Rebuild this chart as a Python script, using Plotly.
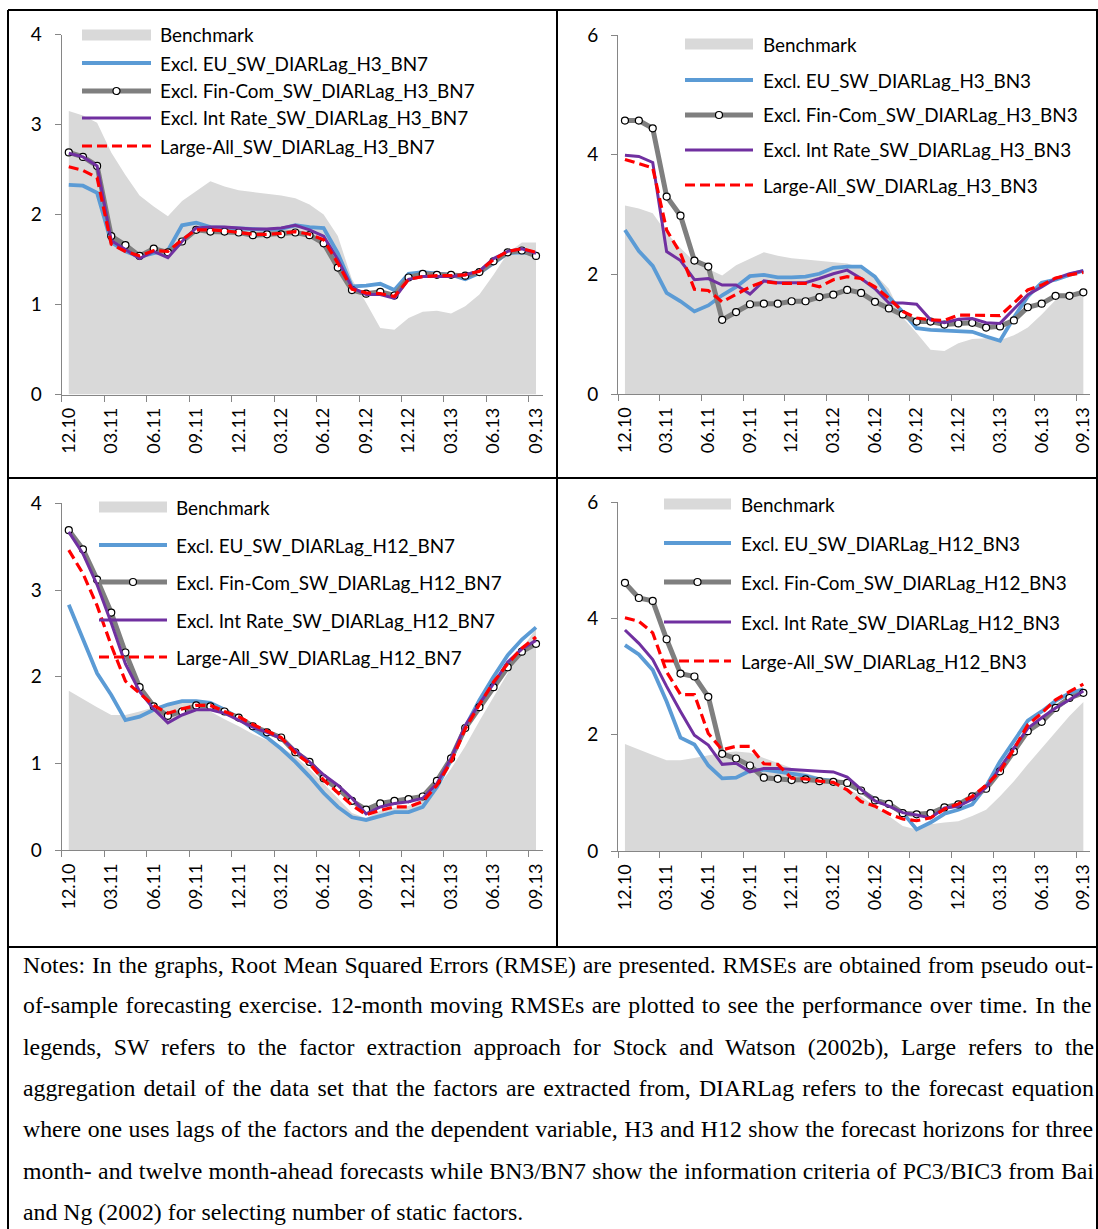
import plotly.graph_objects as go

# ---------------- data ----------------
periods = ["12.10", "01.11", "02.11", "03.11", "04.11", "05.11", "06.11", "07.11", "08.11",
           "09.11", "10.11", "11.11", "12.11", "01.12", "02.12", "03.12", "04.12", "05.12",
           "06.12", "07.12", "08.12", "09.12", "10.12", "11.12", "12.12", "01.13", "02.13",
           "03.13", "04.13", "05.13", "06.13", "07.13", "08.13", "09.13"]
tick_labels = ["12.10", "03.11", "06.11", "09.11", "12.11", "03.12", "06.12", "09.12",
               "12.12", "03.13", "06.13", "09.13"]

bench_h3 = [3.15, 3.10, 3.02, 2.69, 2.44, 2.21, 2.09, 1.98, 2.15, 2.26, 2.37, 2.31, 2.27, 2.25,
            2.23, 2.21, 2.18, 2.11, 2.00, 1.76, 1.28, 1.02, 0.74, 0.72, 0.85, 0.92, 0.93, 0.90,
            0.98, 1.11, 1.33, 1.57, 1.69, 1.69]
bench_h12 = [1.84, 1.74, 1.65, 1.56, 1.56, 1.60, 1.65, 1.69, 1.71, 1.69, 1.60, 1.51, 1.43, 1.34,
             1.27, 1.19, 1.08, 0.94, 0.77, 0.60, 0.43, 0.37, 0.46, 0.49, 0.51, 0.60, 0.71, 0.94,
             1.20, 1.49, 1.77, 2.05, 2.32, 2.56]

eu_h3_bn7 = [2.33, 2.32, 2.24, 1.69, 1.59, 1.53, 1.57, 1.60, 1.88, 1.91, 1.86, 1.85, 1.85, 1.83,
             1.83, 1.84, 1.88, 1.86, 1.85, 1.57, 1.20, 1.21, 1.23, 1.16, 1.34, 1.36, 1.35, 1.33,
             1.28, 1.35, 1.46, 1.57, 1.58, 1.56]
fincom_h3_bn7 = [2.69, 2.64, 2.54, 1.76, 1.66, 1.54, 1.62, 1.58, 1.70, 1.83, 1.81, 1.81, 1.80, 1.77,
                 1.78, 1.78, 1.80, 1.77, 1.68, 1.41, 1.16, 1.12, 1.14, 1.10, 1.30, 1.34, 1.33, 1.33,
                 1.32, 1.36, 1.48, 1.58, 1.60, 1.54]
intrate_h3_bn7 = [2.68, 2.64, 2.54, 1.71, 1.61, 1.51, 1.59, 1.52, 1.70, 1.85, 1.86, 1.86, 1.85, 1.84,
                  1.84, 1.85, 1.88, 1.83, 1.76, 1.50, 1.19, 1.11, 1.11, 1.07, 1.28, 1.31, 1.31, 1.31,
                  1.33, 1.37, 1.51, 1.59, 1.62, 1.57]
large_h3_bn7 = [2.53, 2.49, 2.41, 1.67, 1.59, 1.54, 1.60, 1.59, 1.72, 1.83, 1.83, 1.82, 1.80, 1.78,
                1.78, 1.79, 1.81, 1.78, 1.72, 1.46, 1.17, 1.13, 1.12, 1.09, 1.28, 1.31, 1.32, 1.32,
                1.33, 1.37, 1.50, 1.59, 1.62, 1.58]

eu_h3_bn3 = [2.74, 2.39, 2.14, 1.69, 1.55, 1.38, 1.48, 1.65, 1.79, 1.97, 1.99, 1.95, 1.95, 1.96,
             2.01, 2.11, 2.13, 2.13, 1.96, 1.62, 1.37, 1.10, 1.07, 1.06, 1.05, 1.04, 0.96, 0.89,
             1.28, 1.63, 1.86, 1.91, 1.99, 2.06]
fincom_h3_bn3 = [4.57, 4.57, 4.44, 3.30, 2.98, 2.23, 2.13, 1.24, 1.37, 1.50, 1.51, 1.51, 1.55, 1.55,
                 1.62, 1.66, 1.74, 1.69, 1.54, 1.43, 1.33, 1.21, 1.21, 1.16, 1.18, 1.19, 1.11, 1.13,
                 1.23, 1.45, 1.51, 1.64, 1.64, 1.70]
intrate_h3_bn3 = [3.99, 3.97, 3.87, 2.38, 2.23, 1.91, 1.93, 1.82, 1.82, 1.67, 1.89, 1.86, 1.86, 1.86,
                  1.93, 2.01, 2.07, 1.93, 1.76, 1.52, 1.52, 1.50, 1.24, 1.19, 1.25, 1.26, 1.19, 1.18,
                  1.42, 1.66, 1.79, 1.93, 2.01, 2.06]
large_h3_bn3 = [3.92, 3.85, 3.78, 2.74, 2.35, 1.75, 1.73, 1.54, 1.66, 1.79, 1.88, 1.85, 1.85, 1.85,
                1.79, 1.91, 1.96, 1.93, 1.79, 1.60, 1.38, 1.27, 1.24, 1.23, 1.32, 1.32, 1.32, 1.31,
                1.52, 1.74, 1.82, 1.94, 1.99, 2.03]

eu_h12_bn7 = [2.83, 2.44, 2.04, 1.79, 1.50, 1.54, 1.62, 1.68, 1.72, 1.72, 1.70, 1.62, 1.52, 1.40,
              1.30, 1.17, 1.02, 0.85, 0.66, 0.50, 0.38, 0.35, 0.40, 0.44, 0.44, 0.50, 0.73, 1.04,
              1.42, 1.73, 2.00, 2.25, 2.43, 2.57]
fincom_h12_bn7 = [3.69, 3.47, 3.12, 2.74, 2.28, 1.88, 1.66, 1.55, 1.60, 1.67, 1.66, 1.60, 1.53, 1.43,
                  1.36, 1.30, 1.13, 1.02, 0.83, 0.71, 0.57, 0.47, 0.54, 0.57, 0.59, 0.62, 0.80, 1.06,
                  1.41, 1.65, 1.88, 2.11, 2.29, 2.38]
intrate_h12_bn7 = [3.67, 3.42, 3.06, 2.62, 2.15, 1.83, 1.63, 1.47, 1.56, 1.62, 1.62, 1.58, 1.50, 1.42,
                   1.36, 1.29, 1.15, 1.02, 0.87, 0.75, 0.60, 0.42, 0.50, 0.54, 0.56, 0.60, 0.77, 1.06,
                   1.44, 1.69, 1.92, 2.17, 2.32, 2.42]
large_h12_bn7 = [3.46, 3.19, 2.82, 2.36, 1.95, 1.81, 1.67, 1.58, 1.63, 1.67, 1.67, 1.60, 1.54, 1.45,
                 1.37, 1.30, 1.12, 1.00, 0.81, 0.66, 0.52, 0.41, 0.46, 0.50, 0.50, 0.56, 0.75, 1.02,
                 1.40, 1.68, 1.94, 2.15, 2.33, 2.46]

eu_h12_bn3 = [3.54, 3.38, 3.11, 2.57, 1.95, 1.83, 1.47, 1.25, 1.26, 1.38, 1.40, 1.37, 1.33, 1.29,
              1.23, 1.21, 1.15, 1.03, 0.89, 0.80, 0.66, 0.37, 0.49, 0.64, 0.71, 0.80, 1.11, 1.54,
              1.89, 2.24, 2.40, 2.58, 2.71, 2.78]
fincom_h12_bn3 = [4.61, 4.35, 4.30, 3.64, 3.05, 3.00, 2.65, 1.67, 1.59, 1.47, 1.26, 1.24, 1.22, 1.23,
                  1.20, 1.19, 1.17, 1.04, 0.87, 0.81, 0.65, 0.63, 0.65, 0.75, 0.80, 0.94, 1.07, 1.37,
                  1.71, 2.06, 2.22, 2.46, 2.63, 2.72]
intrate_h12_bn3 = [3.80, 3.57, 3.29, 2.83, 2.40, 1.99, 1.82, 1.49, 1.51, 1.36, 1.42, 1.42, 1.40, 1.38,
                   1.37, 1.36, 1.27, 1.06, 0.86, 0.77, 0.66, 0.62, 0.57, 0.74, 0.77, 0.89, 1.09, 1.43,
                   1.77, 2.11, 2.29, 2.46, 2.60, 2.75]
large_h12_bn3 = [4.01, 3.95, 3.75, 3.08, 2.69, 2.69, 2.02, 1.74, 1.80, 1.80, 1.50, 1.49, 1.25, 1.24,
                 1.20, 1.18, 1.05, 0.85, 0.77, 0.64, 0.55, 0.52, 0.57, 0.72, 0.81, 0.94, 1.13, 1.37,
                 1.75, 2.17, 2.37, 2.60, 2.74, 2.87]

notes_lines = [
    "Notes: In the graphs, Root Mean Squared Errors (RMSE) are presented. RMSEs are obtained from pseudo out-",
    "of-sample forecasting exercise. 12-month moving RMSEs are plotted to see the performance over time. In the",
    "legends, SW refers to the factor extraction approach for Stock and Watson (2002b), Large refers to the",
    "aggregation detail of the data set that the factors are extracted from, DIARLag refers to the forecast equation",
    "where one uses lags of the factors and the dependent variable, H3 and H12 show the forecast horizons for three",
    "month- and twelve month-ahead forecasts while BN3/BN7 show the information criteria of PC3/BIC3 from Bai",
    "and Ng (2002) for selecting number of static factors.",
]
# extra word spacing (px) to justify the paragraph lines as in the original
notes_word_spacing = [0.8, 1.5, 6.1, 2.2, 0.6, 0.4, 0.0]

# ---------------- layout helpers ----------------
W, H = 1098, 1229


def px(x):
    return x / W


def py(y):
    return 1 - y / H


FONT = "Lato"
AX_GRAY = "#868686"
LEG_SIZE = 18.9
series_style = [
    dict(key="eu", prefix="Excl. EU", color="#5B9BD5", width=3.8, dash="solid", marker=False),
    dict(key="fincom", prefix="Excl. Fin-Com", color="#7F7F7F", width=5, dash="solid", marker=True),
    dict(key="intrate", prefix="Excl. Int Rate", color="#7030A0", width=3, dash="solid", marker=False),
    dict(key="large", prefix="Large-All", color="#FF0000", width=3.2, dash="10px,5px", marker=False),
]

panels = [
    dict(tag="H3_BN7", bench=bench_h3, eu=eu_h3_bn7, fincom=fincom_h3_bn7, intrate=intrate_h3_bn7,
         large=large_h3_bn7, ymax=4, dtick=1, box=(61.7, 543.1, 34.5, 394.5),
         leg=(82, 151, 158, [35, 63, 91, 118, 146])),
    dict(tag="H3_BN3", bench=bench_h3, eu=eu_h3_bn3, fincom=fincom_h3_bn3, intrate=intrate_h3_bn3,
         large=large_h3_bn3, ymax=6, dtick=2, box=(618, 1090.3, 35, 394),
         leg=(685, 753, 761, [44, 80, 115, 150, 185])),
    dict(tag="H12_BN7", bench=bench_h12, eu=eu_h12_bn7, fincom=fincom_h12_bn7, intrate=intrate_h12_bn7,
         large=large_h12_bn7, ymax=4, dtick=1, box=(61.7, 543.1, 503.3, 850.3),
         leg=(99, 167, 174, [507, 545, 582, 620, 657])),
    dict(tag="H12_BN3", bench=bench_h12, eu=eu_h12_bn3, fincom=fincom_h12_bn3, intrate=intrate_h12_bn3,
         large=large_h12_bn3, ymax=6, dtick=2, box=(618, 1090.3, 502, 851),
         leg=(664, 731, 739, [504, 543, 582, 622, 661])),
]

x_idx = list(range(len(periods)))
tickvals = [periods.index(t) for t in tick_labels]
boundaries = [v - 0.5 for v in tickvals]

fig = go.Figure()
shapes = []
annotations = []

for n, p in enumerate(panels, start=1):
    xa = "x" if n == 1 else f"x{n}"
    ya = "y" if n == 1 else f"y{n}"
    fig.add_trace(go.Scatter(x=x_idx, y=p["bench"], xaxis=xa, yaxis=ya, mode="lines",
                             fill="tozeroy", fillcolor="#D9D9D9", line=dict(width=0, color="#D9D9D9"),
                             name="Benchmark", hoverinfo="skip"))
    for s in series_style:
        fig.add_trace(go.Scatter(
            x=x_idx, y=p[s["key"]], xaxis=xa, yaxis=ya,
            mode="lines+markers" if s["marker"] else "lines",
            line=dict(color=s["color"], width=s["width"], dash=s["dash"]),
            marker=dict(symbol="circle", size=7, color="white", line=dict(color="black", width=1.2)),
            name=f'{s["prefix"]}_SW_DIARLag_{p["tag"]}'))

    x0, x1, ytop, ybot = p["box"]
    axn = "" if n == 1 else str(n)
    fig.update_layout(**{
        f"xaxis{axn}": dict(
            domain=[px(x0), px(x1)], anchor=ya, range=[-0.5, len(periods) - 0.5],
            tickmode="array", tickvals=tickvals, ticktext=tick_labels, tickangle=-90,
            ticks="", ticklabelstandoff=5, showline=True, linecolor=AX_GRAY, linewidth=1,
            showgrid=False, zeroline=False, automargin=False,
            tickfont=dict(family=FONT, size=18, color="black"),
            minor=dict(tickmode="array", tickvals=boundaries, ticks="outside", ticklen=6,
                       tickcolor=AX_GRAY, tickwidth=1, showgrid=False)),
        f"yaxis{axn}": dict(
            domain=[py(ybot), py(ytop)], anchor=xa, range=[0, p["ymax"]], dtick=p["dtick"],
            ticks="outside", ticklen=6, tickcolor=AX_GRAY, showline=True, linecolor=AX_GRAY,
            linewidth=1, showgrid=False, zeroline=False, ticklabelstandoff=9, automargin=False,
            tickfont=dict(family=FONT, size=19, color="black")),
    })

    # legend (drawn manually to match the long Excel legend keys)
    lx0, lx1, ltx, rows = p["leg"]
    shapes.append(dict(type="rect", xref="paper", yref="paper", x0=px(lx0), x1=px(lx1),
                       y0=py(rows[0] + 5.5), y1=py(rows[0] - 5.5), fillcolor="#D9D9D9",
                       line=dict(width=0)))
    annotations.append(dict(text="Benchmark", x=px(ltx), y=py(rows[0]), xref="paper", yref="paper",
                            xanchor="left", yanchor="middle", showarrow=False,
                            font=dict(family=FONT, size=LEG_SIZE, color="black")))
    for s, ry in zip(series_style, rows[1:]):
        shapes.append(dict(type="line", xref="paper", yref="paper", x0=px(lx0), x1=px(lx1),
                           y0=py(ry), y1=py(ry),
                           line=dict(color=s["color"], width=s["width"], dash=s["dash"])))
        if s["marker"]:
            cx = (lx0 + lx1) / 2
            shapes.append(dict(type="circle", xref="paper", yref="paper",
                               x0=px(cx - 3.5), x1=px(cx + 3.5), y0=py(ry + 3.5), y1=py(ry - 3.5),
                               fillcolor="white", line=dict(color="black", width=1.2)))
        annotations.append(dict(text=f'{s["prefix"]}_SW_DIARLag_{p["tag"]}', x=px(ltx), y=py(ry),
                                xref="paper", yref="paper", xanchor="left", yanchor="middle",
                                showarrow=False, font=dict(family=FONT, size=LEG_SIZE, color="black")))

# table frame
frame = [
    (8, 10, 1098, 10), (8, 10, 8, 1229), (1097, 10, 1097, 1229),
    (557, 10, 557, 947), (8, 478, 1098, 478), (8, 947, 1098, 947),
]
for (a, b, c, d) in frame:
    shapes.append(dict(type="line", xref="paper", yref="paper", x0=px(a), y0=py(b), x1=px(c), y1=py(d),
                       line=dict(color="black", width=2)))

# notes
note_y = [965, 1005, 1047, 1088, 1129, 1171, 1212]
for line, yy, ws in zip(notes_lines, note_y, notes_word_spacing):
    annotations.append(dict(text=f'<span style="word-spacing:{ws}px">{line}</span>',
                            x=px(20.5), y=py(yy), xref="paper", yref="paper",
                            xanchor="left", yanchor="middle", showarrow=False,
                            font=dict(family="Liberation Serif", size=23.8, color="black")))

fig.update_layout(width=W, height=H, margin=dict(l=0, r=0, t=0, b=0, autoexpand=False),
                  showlegend=False, paper_bgcolor="white", plot_bgcolor="rgba(0,0,0,0)",
                  shapes=shapes, annotations=annotations)

fig.write_html("out.html", config={"displayModeBar": False}, post_script=(
    "document.body.style.margin='0';"
    "document.body.style.overflow='hidden';"
    "document.documentElement.style.overflow='hidden';"))
